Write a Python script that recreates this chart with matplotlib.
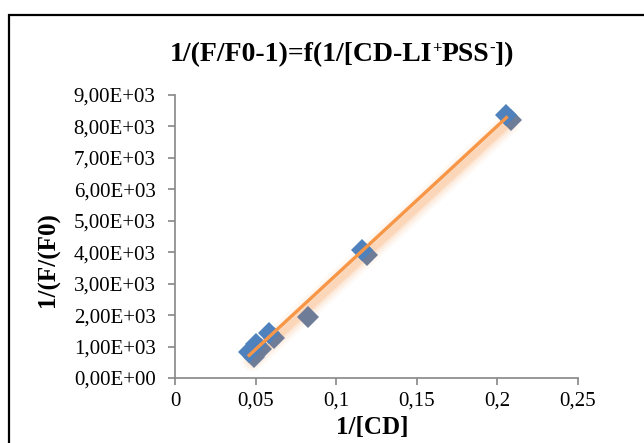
import numpy as np
import matplotlib
matplotlib.use('Agg')
import matplotlib.pyplot as plt
import matplotlib.transforms as mtransforms
from matplotlib.patches import Rectangle

plt.rcParams['font.family'] = ['Liberation Serif', 'DejaVu Serif']

# data
inv_cd = [0.046, 0.0503, 0.0584, 0.116, 0.2056]
inv_f = [830, 1085, 1430, 4070, 8370]
# one marker that shows only in grey
inv_cd_grey = [0.0826]
inv_f_grey = [1945]

x_ticks = [0, 0.05, 0.1, 0.15, 0.2, 0.25]
y_ticks = [0, 1000, 2000, 3000, 4000, 5000, 6000, 7000, 8000, 9000]

# title pieces: (text, is superscript)
title_parts = [('1/(F/F0-1)=f(1/[CD-LI', False), ('+', True), ('PSS', False),
               ('-', True), ('])', False)]

fig = plt.figure(figsize=(6.44, 4.43), dpi=100)
ax = fig.add_axes([175 / 644, 1 - 378 / 443, 403 / 644, 283 / 443])

# outer chart frame (cropped on the right and bottom)
fig.patches.append(Rectangle((9 / 644, -0.2), 1.2, 1.2 - 15 / 443,
                             transform=fig.transFigure, fill=False,
                             edgecolor='black', linewidth=1.6))

# linear trendline with a soft orange glow
all_x = np.array(inv_cd + inv_cd_grey)
all_y = np.array(inv_f + inv_f_grey)
k, b = np.polyfit(all_x, all_y, 1)
tx = np.array([all_x.min(), all_x.max()])
ty = k * tx + b
glow = mtransforms.offset_copy(ax.transData, fig=fig, x=3, y=-5, units='dots')
for lw, a in [(16, 0.05), (12, 0.08), (8, 0.12), (5, 0.18)]:
    ax.plot(tx, ty, color='#F79646', lw=lw, alpha=a, transform=glow,
            solid_capstyle='round', zorder=2)

# marker shadows
shadow = mtransforms.offset_copy(ax.transData, fig=fig, x=5, y=-5, units='dots')
ax.plot(inv_cd, inv_f, 'D', color='#6f7c98', ms=11.5, mew=0,
        transform=shadow, zorder=3)
ax.plot(inv_cd_grey, inv_f_grey, 'D', color='#6f7c98', ms=11.5, mew=0, zorder=3)
ax.plot(inv_cd, inv_f, 'D', color='#4F81BD', ms=11.5, mew=0, zorder=4)
ax.plot(tx, ty, color='#F79646', lw=2.4, zorder=5)

ax.set_xlim(0, 0.25)
ax.set_ylim(0, 9000)
ax.set_xticks(x_ticks)
ax.set_yticks(y_ticks)
ax.set_xticklabels([('%g' % v).replace('.', ',') for v in x_ticks])
ax.set_yticklabels([('%.2E' % v).replace('.', ',') for v in y_ticks])
ax.tick_params(labelsize=15, length=5, color='#868686', width=1.2)
ax.tick_params(axis='y', pad=9)
ax.tick_params(axis='x', pad=5)

for s in ['top', 'right']:
    ax.spines[s].set_visible(False)
for s in ['left', 'bottom']:
    ax.spines[s].set_color('#868686')
    ax.spines[s].set_linewidth(1.2)

ax.set_xlabel('1/[CD]', fontsize=18, fontweight='bold')
ax.xaxis.set_label_coords(0.49, -0.135)
ax.set_ylabel('1/(F/(F0)', fontsize=18, fontweight='bold')
ax.yaxis.set_label_coords(-0.285, 0.42)

# title built from pieces so the + and - sit as small superscripts
renderer = fig.canvas.get_renderer()
texts = []
for part, sup in title_parts:
    t = fig.text(0, 0, part, fontsize=12 if sup else 20, fontweight='bold',
                 ha='left', va='baseline', transform=None)
    texts.append((t, sup))
widths = [t.get_window_extent(renderer).width for t, _ in texts]
x0 = 342 - sum(widths) / 2
base = 443 - 61
for (t, sup), w in zip(texts, widths):
    t.set_position((x0, base + (8 if sup else 0)))
    x0 += w

fig.savefig('out.png', dpi=100)
